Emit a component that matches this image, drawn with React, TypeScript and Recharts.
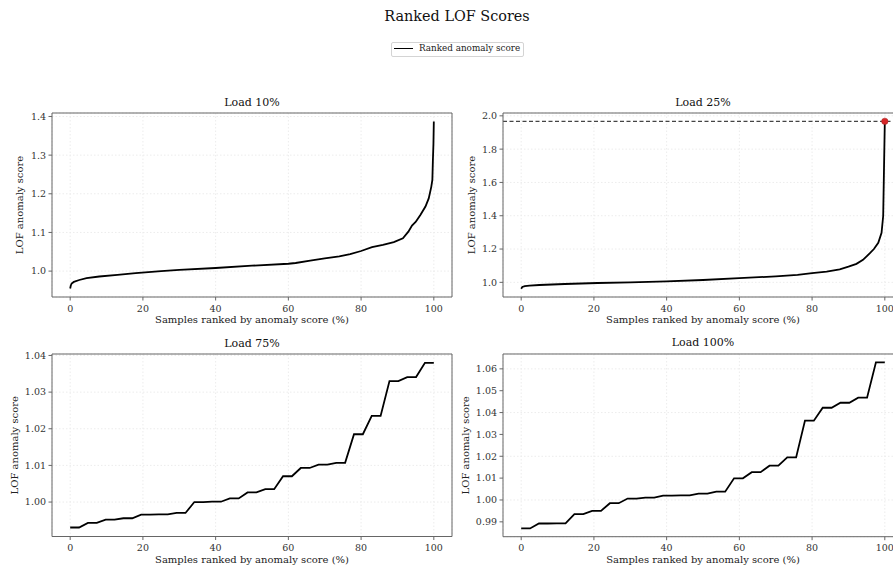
import React from 'react';
import {
  LineChart,
  Line,
  XAxis,
  YAxis,
  CartesianGrid,
  ReferenceLine,
  ReferenceDot,
} from 'recharts';

const rankTicks = [0, 20, 40, 60, 80, 100];
const rankDomain: [number, number] = [-5, 105];

// Load 10% (rank in % of samples, LOF score)
const load10Rank = [
  0, 0.15, 0.4, 1, 2.5, 4.5, 8, 13, 18, 25, 30, 40, 50, 60, 62, 66, 70, 74, 77,
  80, 83, 86, 89, 91.5, 93, 94, 95, 96.3, 97.7, 98.6, 99.3, 99.6, 99.75, 99.9, 100,
];
const load10Score = [
  0.955, 0.962, 0.968, 0.972, 0.977, 0.982, 0.986, 0.99, 0.995, 1.0, 1.003, 1.008,
  1.014, 1.019, 1.021, 1.027, 1.033, 1.038, 1.044, 1.052, 1.062, 1.068, 1.075,
  1.085, 1.102, 1.118, 1.127, 1.145, 1.167, 1.188, 1.218, 1.236, 1.288, 1.33, 1.387,
];
const load10Ticks = [1.0, 1.1, 1.2, 1.3, 1.4];

// Load 25%
const load25Rank = [
  0, 0.3, 1, 2.3, 5, 12, 21, 30, 40, 50, 60, 70, 76, 80, 84, 87.6, 90, 92.2, 94,
  95.9, 97, 98.2, 99.1, 99.55, 100,
];
const load25Score = [
  0.962, 0.972, 0.977, 0.98, 0.984, 0.99, 0.996, 1.0, 1.006, 1.014, 1.025, 1.036,
  1.045, 1.055, 1.064, 1.078, 1.094, 1.111, 1.135, 1.175, 1.2, 1.237, 1.297, 1.398,
  1.967,
];
const load25Ticks = [1.0, 1.2, 1.4, 1.6, 1.8, 2.0];
const load25Max = 1.967;

// Load 75%
const load75Score = [
  0.99305, 0.99305, 0.99431, 0.99431, 0.99521, 0.99521, 0.99558, 0.99558,
  0.99657, 0.99657, 0.99666, 0.99666, 0.99702, 0.99702, 1.0, 1.0, 1.00009,
  1.00009, 1.00099, 1.00099, 1.00262, 1.00262, 1.00352, 1.00352, 1.00704,
  1.00704, 1.0093, 1.0093, 1.0102, 1.0102, 1.0107, 1.0107, 1.0185, 1.0185,
  1.0235, 1.0235, 1.033, 1.033, 1.0341, 1.0341, 1.038, 1.038,
];
const load75Ticks = [1.0, 1.01, 1.02, 1.03, 1.04];

// Load 100%
const load100Score = [
  0.98696, 0.98696, 0.98924, 0.98924, 0.98928, 0.98928, 0.9935, 0.9935, 0.99502,
  0.99502, 0.99852, 0.99852, 1.00065, 1.00065, 1.0011, 1.0011, 1.002, 1.002,
  1.0021, 1.0021, 1.0029, 1.0029, 1.0038, 1.0038, 1.0099, 1.0099, 1.0127, 1.0127,
  1.0157, 1.0157, 1.0195, 1.0195, 1.0363, 1.0363, 1.0422, 1.0422, 1.0445, 1.0445,
  1.0468, 1.0468, 1.063, 1.063,
];
const load100Ticks = [0.99, 1.0, 1.01, 1.02, 1.03, 1.04, 1.05, 1.06];

// rank position (%) of each sample in a ranked list
const rankOf = (list: number[]) => list.map((_, i) => (i * 100) / (list.length - 1));

const SPINE = '#666';

interface PanelProps {
  title: string;
  rank: number[];
  score: number[];
  domain: [number, number];
  ticks: number[];
  digits: number;
  left: number;
  top: number;
  plotHeight: number;
  yLabelOffset: number;
  maxLine?: number;
}

function Panel({
  title,
  rank,
  score,
  domain,
  ticks,
  digits,
  left,
  top,
  plotHeight,
  yLabelOffset,
  maxLine,
}: PanelProps) {
  const data = rank.map((r, i) => ({ rank: r, score: score[i] }));
  const height = 20 + plotHeight + 41;

  return (
    <div style={{ position: 'absolute', left, top, width: 460, height }}>
      {/* subplot title */}
      <div
        style={{
          position: 'absolute',
          left: 52,
          top: 2.7,
          width: 400,
          textAlign: 'center',
          fontSize: 11,
          lineHeight: '13px',
          color: '#111',
          whiteSpace: 'nowrap',
        }}
      >
        {title}
      </div>
      <LineChart
        width={460}
        height={height}
        data={data}
        margin={{ top: 20, right: 8, bottom: 0, left: 0 }}
      >
        <CartesianGrid stroke="#ececec" strokeDasharray="1.5 2" />
        <XAxis
          dataKey="rank"
          type="number"
          domain={rankDomain}
          ticks={rankTicks}
          allowDataOverflow
          height={41}
          stroke={SPINE}
          tickSize={3.5}
          tickMargin={4.5}
          tick={{ fontSize: 9.5, fill: '#333' }}
          label={{
            value: 'Samples ranked by anomaly score (%)',
            position: 'insideBottom',
            offset: 15,
            fontSize: 10,
            fill: '#222',
          }}
        />
        <YAxis
          type="number"
          domain={domain}
          ticks={ticks}
          allowDataOverflow
          width={52}
          stroke={SPINE}
          tickSize={3.5}
          tickMargin={2.5}
          tick={{ fontSize: 9.5, fill: '#333' }}
          tickFormatter={(v: number) => v.toFixed(digits)}
          label={{
            value: 'LOF anomaly score',
            angle: -90,
            position: 'insideLeft',
            offset: yLabelOffset,
            fontSize: 10,
            fill: '#222',
            style: { textAnchor: 'middle' },
          }}
        />
        {/* top and right spines */}
        <ReferenceLine y={domain[1]} stroke={SPINE} strokeWidth={1} />
        <ReferenceLine x={rankDomain[1]} stroke={SPINE} strokeWidth={1} />
        {maxLine !== undefined && (
          <ReferenceLine
            y={maxLine}
            stroke="#444"
            strokeDasharray="4 2.5"
            strokeWidth={1.2}
          />
        )}
        <Line
          type="linear"
          dataKey="score"
          stroke="#000"
          strokeWidth={1.8}
          dot={false}
          isAnimationActive={false}
        />
        {maxLine !== undefined && (
          <ReferenceDot
            x={100}
            y={maxLine}
            r={3.2}
            fill="#d62728"
            stroke="#a31d1d"
            strokeWidth={0.5}
          />
        )}
      </LineChart>
    </div>
  );
}

export default function App() {
  return (
    <div
      style={{
        position: 'absolute',
        left: 0,
        top: 0,
        width: 893,
        height: 570,
        overflow: 'hidden',
        background: '#fff',
        fontFamily: '"DejaVu Serif", serif',
      }}
    >
      <div
        style={{
          position: 'absolute',
          left: 0,
          top: 7.5,
          width: 914,
          textAlign: 'center',
          fontSize: 14.4,
          lineHeight: '17px',
          color: '#111',
        }}
      >
        Ranked LOF Scores
      </div>

      {/* figure legend */}
      <div
        style={{
          position: 'absolute',
          left: 390.5,
          top: 41.5,
          width: 133,
          height: 15,
          boxSizing: 'border-box',
          border: '1px solid #d4d4d4',
          borderRadius: 2,
        }}
      />
      <div
        style={{
          position: 'absolute',
          left: 393.5,
          top: 47.5,
          width: 19,
          borderTop: '1.8px solid #000',
        }}
      />
      <div
        style={{
          position: 'absolute',
          left: 419,
          top: 42,
          fontSize: 8.8,
          lineHeight: '13px',
          whiteSpace: 'nowrap',
          color: '#222',
        }}
      >
        Ranked anomaly score
      </div>

      <Panel
        title="Load 10%"
        rank={load10Rank}
        score={load10Score}
        domain={[0.933, 1.409]}
        ticks={load10Ticks}
        digits={1}
        left={0}
        top={93}
        plotHeight={184}
        yLabelOffset={19.5}
      />
      <Panel
        title="Load 25%"
        rank={load25Rank}
        score={load25Score}
        domain={[0.912, 2.017]}
        ticks={load25Ticks}
        digits={1}
        left={451}
        top={93}
        plotHeight={184}
        yLabelOffset={20}
        maxLine={load25Max}
      />
      <Panel
        title="Load 75%"
        rank={rankOf(load75Score)}
        score={load75Score}
        domain={[0.9906, 1.0404]}
        ticks={load75Ticks}
        digits={2}
        left={0}
        top={334}
        plotHeight={182.5}
        yLabelOffset={14.5}
      />
      <Panel
        title="Load 100%"
        rank={rankOf(load100Score)}
        score={load100Score}
        domain={[0.9832, 1.0668]}
        ticks={load100Ticks}
        digits={2}
        left={451}
        top={333.5}
        plotHeight={182.7}
        yLabelOffset={14}
      />
    </div>
  );
}
